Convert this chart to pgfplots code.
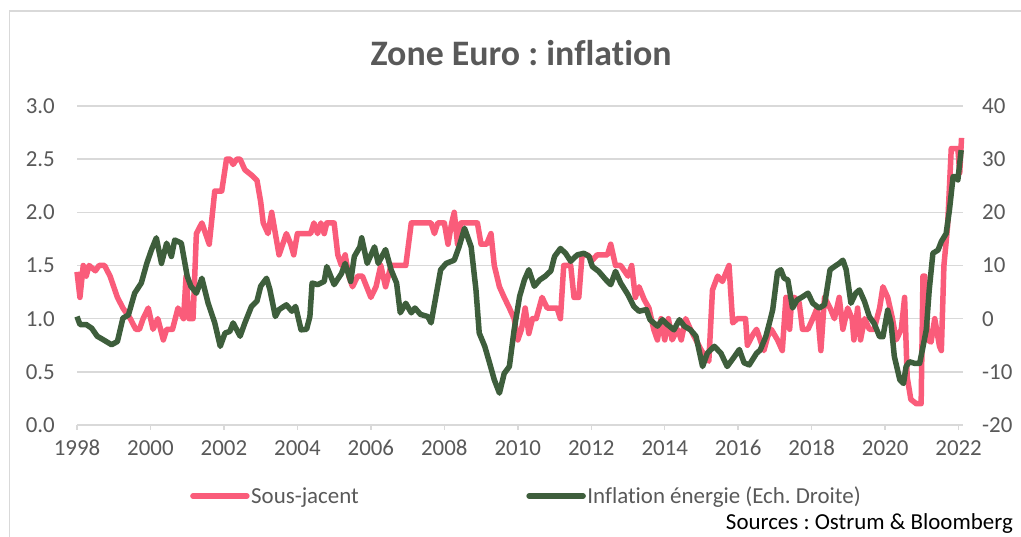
\documentclass[border=0pt]{standalone}
\usepackage{pgfplots}
\pgfplotsset{compat=1.18}
\usepackage{fontspec}
\setmainfont{Carlito}[Ligatures=NoCommon]
\definecolor{pinkc}{RGB}{250,92,122}
\definecolor{greenc}{RGB}{62,94,60}
\definecolor{txt}{RGB}{89,89,89}
\definecolor{gridc}{RGB}{217,217,217}
\frenchspacing
\begin{document}
\begin{tikzpicture}[x=1bp,y=1bp]
\useasboundingbox (0,0) rectangle (1021,537);
\fill[white] (0,0) rectangle (1021,537);
\draw[gridc, line width=1.5bp] (9.5,-2) -- (9.5,526) -- (1023,526);
\node[font=\fontsize{36}{42}\selectfont\bfseries, text=txt] at (521,484) {Zone Euro : inflation};
\node[font=\fontsize{23}{27}\selectfont, text=black, anchor=east, inner sep=0pt] at (1013,13) {Sources : Ostrum \& Bloomberg};

\begin{axis}[at={(77bp,112bp)}, anchor=south west, scale only axis,
  width=886bp, height=319bp,
  xmin=1998, xmax=2022.12, ymin=0, ymax=3,
  axis x line*=bottom, axis y line*=left,
  x axis line style={gridc, line width=1.5bp, -},
  y axis line style={draw=none},
  xtick={1998,2000,...,2022},
  ytick={0,0.5,...,3},
  ymajorgrids, grid style={gridc, line width=1.5bp},
  tick align=outside, major tick length=5bp,
  xtick style={gridc, line width=1.5bp},
  ytick style={draw=none},
  /pgf/number format/assume math mode=true,
  xticklabel style={/pgf/number format/1000 sep={}, font=\fontsize{23}{27}\selectfont, text=txt, inner sep=0pt, yshift=-10bp},
  yticklabel style={/pgf/number format/fixed, /pgf/number format/fixed zerofill, /pgf/number format/precision=1, font=\fontsize{23}{27}\selectfont, text=txt, inner sep=0pt, anchor=east, xshift=-17bp},
  clip=false,
]
\addplot[pinkc, line width=5.5bp, line join=round] table {
1998.00 1.44
1998.08 1.2
1998.17 1.5
1998.25 1.4
1998.33 1.5
1998.5 1.45
1998.6 1.5
1998.75 1.5
1998.9 1.4
1999.0 1.3
1999.1 1.2
1999.25 1.1
1999.45 1.0
1999.6 0.9
1999.7 0.9
1999.8 1.0
1999.94 1.1
2000.07 0.9
2000.2 1.0
2000.35 0.8
2000.44 0.9
2000.6 0.9
2000.75 1.1
2000.9 1.0
2000.97 1.4
2001.05 1.0
2001.16 1.0
2001.25 1.8
2001.4 1.9
2001.5 1.8
2001.6 1.7
2001.75 2.2
2001.94 2.2
2002.07 2.5
2002.17 2.5
2002.25 2.45
2002.35 2.5
2002.44 2.5
2002.57 2.4
2002.75 2.35
2002.9 2.3
2003.0 2.1
2003.07 1.9
2003.2 1.8
2003.3 2.0
2003.4 1.8
2003.5 1.6
2003.6 1.7
2003.7 1.8
2003.82 1.7
2003.9 1.6
2004.0 1.8
2004.14 1.8
2004.36 1.8
2004.45 1.9
2004.55 1.8
2004.64 1.9
2004.73 1.8
2004.8 1.9
2005.0 1.9
2005.1 1.6
2005.2 1.5
2005.3 1.6
2005.4 1.4
2005.5 1.3
2005.64 1.4
2005.77 1.4
2006.0 1.2
2006.14 1.3
2006.27 1.5
2006.4 1.3
2006.55 1.5
2006.73 1.5
2006.95 1.5
2007.1 1.9
2007.64 1.9
2007.73 1.8
2007.82 1.9
2008.0 1.9
2008.1 1.7
2008.2 1.9
2008.27 2.0
2008.36 1.7
2008.45 1.9
2008.6 1.9
2008.9 1.9
2009.0 1.7
2009.15 1.7
2009.27 1.8
2009.36 1.5
2009.5 1.3
2009.63 1.2
2009.77 1.1
2009.9 1.0
2010.0 0.8
2010.1 0.9
2010.2 1.1
2010.3 0.86
2010.4 1.0
2010.5 1.0
2010.66 1.2
2010.8 1.1
2011.07 1.1
2011.16 1.0
2011.25 1.5
2011.44 1.5
2011.53 1.2
2011.66 1.2
2011.75 1.6
2011.9 1.6
2012.03 1.55
2012.16 1.6
2012.44 1.6
2012.53 1.7
2012.66 1.5
2012.8 1.5
2013.0 1.4
2013.1 1.5
2013.2 1.2
2013.3 1.3
2013.44 1.18
2013.57 1.1
2013.7 0.9
2013.8 0.8
2013.9 1.0
2014.0 0.8
2014.1 1.0
2014.2 0.8
2014.35 0.9
2014.45 0.8
2014.57 1.0
2014.7 0.9
2014.85 0.8
2015.0 0.7
2015.2 0.6
2015.3 1.27
2015.44 1.4
2015.57 1.35
2015.75 1.5
2015.85 0.96
2015.98 1.0
2016.1 1.0
2016.2 1.0
2016.25 0.75
2016.4 0.85
2016.5 0.9
2016.6 0.8
2016.7 0.7
2016.8 0.83
2016.9 0.9
2017.07 0.8
2017.2 0.7
2017.3 1.2
2017.4 0.9
2017.45 1.15
2017.53 1.2
2017.66 1.15
2017.75 0.9
2017.9 0.9
2018.03 1.0
2018.15 1.1
2018.25 0.7
2018.35 1.2
2018.5 1.1
2018.62 1.0
2018.75 1.2
2018.85 0.9
2018.98 1.1
2019.1 1.0
2019.15 0.8
2019.25 1.1
2019.33 0.8
2019.44 1.0
2019.57 0.9
2019.7 0.9
2019.85 1.1
2019.94 1.3
2020.07 1.2
2020.2 1.0
2020.3 0.8
2020.44 0.9
2020.53 1.2
2020.6 0.45
2020.7 0.24
2020.85 0.2
2020.98 0.2
2021.03 1.4
2021.08 1.4
2021.16 0.8
2021.25 0.78
2021.35 1.0
2021.48 0.74
2021.53 0.7
2021.6 1.5
2021.7 1.87
2021.8 2.6
2021.98 2.6
2022.03 2.37
2022.08 2.7
};
\end{axis}

\begin{axis}[at={(77bp,112bp)}, anchor=south west, scale only axis,
  width=886bp, height=319bp,
  xmin=1998, xmax=2022.12, ymin=-20, ymax=40,
  axis x line=none, axis y line*=right,
  y axis line style={draw=none},
  ytick={-20,-10,...,40},
  ytick style={draw=none},
  /pgf/number format/assume math mode=true,
  yticklabel style={font=\fontsize{23}{27}\selectfont, text=txt, inner sep=0pt, anchor=west, xshift=19bp},
  clip=false,
  legend style={at={(axis description cs:0.1275,-0.2226)}, anchor=west, draw=none, fill=none,
    legend columns=2, font=\fontsize{23}{27}\selectfont, text=txt,
    inner sep=0pt, /tikz/every even column/.append style={column sep=166bp},
    nodes={inner sep=1.5bp}},
  legend cell align=left,
]
\addlegendimage{legend image code/.code={\draw[pinkc, line width=5.5bp, line cap=round] (0bp,0bp) -- (54bp,0bp);}}
\addlegendentry{Sous-jacent}
\addplot[greenc, line width=5.5bp, line join=round,
  legend image code/.code={\draw[greenc, line width=5.5bp, line cap=round] (0bp,0bp) -- (54bp,0bp);}] table {
1998.0 0.4
1998.08 -1.1
1998.25 -1.1
1998.4 -1.8
1998.55 -3.3
1998.7 -3.9
1998.94 -4.9
1999.1 -4.3
1999.25 0.1
1999.4 0.7
1999.57 4.8
1999.75 6.7
1999.9 10.4
2000.03 13
2000.16 15.2
2000.3 10.4
2000.44 14.2
2000.57 11.7
2000.66 14.8
2000.84 14.2
2001.0 8
2001.1 6.1
2001.25 4.8
2001.4 7.6
2001.57 2.9
2001.75 -0.8
2001.9 -5.2
2002.03 -2.7
2002.16 -2.4
2002.25 -0.8
2002.44 -3.3
2002.57 -0.8
2002.75 2.3
2002.9 3.3
2003.0 6.1
2003.16 7.6
2003.25 5.5
2003.4 0.4
2003.5 1.7
2003.7 2.6
2003.85 1.4
2003.95 2.3
2004.1 -2.1
2004.25 -2.0
2004.34 0.4
2004.4 6.7
2004.55 6.4
2004.73 7
2004.8 9.8
2005.0 6.4
2005.2 8.5
2005.3 10.4
2005.45 7
2005.55 11.7
2005.7 13.5
2005.75 15.2
2005.9 10.4
2006.1 13.5
2006.2 10.4
2006.4 13
2006.55 9.2
2006.7 6.7
2006.8 1.1
2006.95 2.9
2007.1 1.1
2007.2 2
2007.35 0.8
2007.55 0.4
2007.64 -0.8
2007.77 4.2
2007.9 9.2
2008.05 10.4
2008.27 11
2008.4 13.5
2008.55 17
2008.73 13.5
2008.86 5.5
2008.95 -2.7
2009.1 -5.2
2009.23 -8.3
2009.36 -11.5
2009.5 -14
2009.63 -10.3
2009.77 -9
2009.9 -2.1
2010.05 4.2
2010.18 7.3
2010.3 9.2
2010.45 6.1
2010.6 7.3
2010.75 8
2010.9 9
2011.0 11.7
2011.16 13.2
2011.3 12.3
2011.44 10.8
2011.62 12
2011.8 12.3
2011.94 11.7
2012.03 9.8
2012.2 8.9
2012.4 7.3
2012.53 6.4
2012.66 8.9
2012.8 6.7
2013.0 4.5
2013.16 2.3
2013.3 1.4
2013.5 1.7
2013.6 -0.2
2013.8 -1.4
2013.94 -0.2
2014.07 -1.1
2014.25 -2.1
2014.4 -0.2
2014.53 -1.4
2014.7 -2.1
2014.85 -3.3
2015.03 -9
2015.16 -6.5
2015.35 -5.2
2015.53 -6.5
2015.7 -9
2015.9 -7.1
2016.03 -5.8
2016.16 -8.3
2016.3 -8.7
2016.5 -6.5
2016.6 -5.9
2016.75 -3.4
2016.85 -0.8
2016.94 1.7
2017.07 8.8
2017.16 9.2
2017.25 7.6
2017.35 7.3
2017.48 2.0
2017.6 3.5
2017.75 4.1
2017.9 4.8
2018.03 2.9
2018.2 2
2018.35 2.6
2018.5 9.2
2018.62 9.8
2018.75 10.4
2018.85 11
2018.94 9.2
2019.07 2.9
2019.2 4.8
2019.3 5.4
2019.44 3.2
2019.57 0.4
2019.7 -0.9
2019.85 -3.4
2019.94 -3.4
2020.07 1.6
2020.16 -0.8
2020.25 -7.1
2020.4 -11.5
2020.5 -12.2
2020.57 -9
2020.66 -8.1
2020.8 -8.4
2020.94 -8.4
2021.03 -5.3
2021.12 -2.1
2021.2 5.4
2021.3 12.3
2021.44 12.9
2021.53 14.5
2021.66 16
2021.75 20.4
2021.85 26.7
2021.94 26.7
2021.98 26.1
2022.07 31.7
};
\addlegendentry{Inflation énergie (Ech. Droite)}
\end{axis}
\end{tikzpicture}
\end{document}
